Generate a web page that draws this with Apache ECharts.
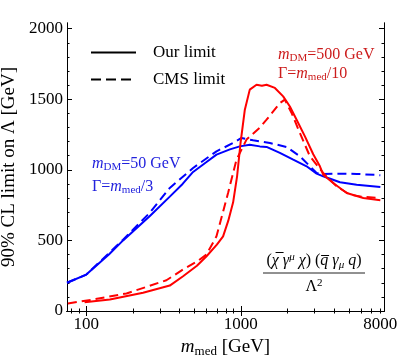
<!DOCTYPE html>
<html>
<head>
<meta charset="utf-8">
<script src="https://cdn.jsdelivr.net/npm/echarts@6/dist/echarts.min.js"></script>
<style>
  html, body { margin: 0; padding: 0; background: #fff; }
  #app { width: 399px; height: 360px; }
</style>
</head>
<body>
<div id="app"></div>
<script>
// m_DM = 50 GeV, Gamma = m_med/3 (blue)
const blueOurMass = [75, 100, 140, 173, 257, 347, 420, 491, 600, 696, 850, 985, 1143, 1328, 1468, 1790, 2184, 2666, 3096, 3414, 4385, 5623, 8000];
const blueOurLimit = [200, 258, 400, 500, 671, 810, 900, 985, 1055, 1108, 1145, 1166, 1178, 1166, 1162, 1120, 1072, 1025, 973, 954, 912, 895, 878];
const blueCmsMass = [75, 100, 173, 257, 347, 491, 696, 892, 1011, 1202, 1542, 1977, 2412, 2800, 3096, 3414, 4385, 5623, 8000];
const blueCmsLimit = [200, 258, 505, 695, 872, 1013, 1131, 1190, 1226, 1209, 1190, 1162, 1096, 1025, 978, 970, 973, 971, 962];

// m_DM = 500 GeV, Gamma = m_med/10 (red)
const redOurMass = [97.5, 142, 233, 347, 423, 520, 600, 700, 768, 830, 892, 946, 996, 1062, 1143, 1264, 1370, 1468, 1662, 1880, 2078, 2297, 2600, 2943, 3251, 3414, 3962, 4844, 6209, 8000];
const redOurLimit = [62, 81, 129, 180, 246, 320, 388, 470, 529, 640, 770, 954, 1190, 1426, 1568, 1603, 1596, 1603, 1580, 1520, 1449, 1355, 1237, 1110, 1025, 966, 907, 836, 801, 784];
const redCmsMass = [76, 110, 182, 330, 423, 520, 600, 696, 827, 938, 1089, 1328, 1468, 1790, 1928, 2132, 2412, 2800, 3414, 4169, 5085, 6209, 8000];
const redCmsLimit = [53, 81, 124, 218, 294, 350, 400, 529, 836, 1072, 1214, 1299, 1355, 1473, 1497, 1403, 1261, 1096, 978, 883, 824, 808, 801];

// ticks
const xLabels = [100, 1000, 8000];
const xMajorTicks = [100, 1000];
const xMinorTicks = [80, 90, 200, 300, 400, 500, 600, 700, 800, 900, 2000, 3000, 4000, 5000, 6000, 7000, 8000];
const yLabels = [0, 500, 1000, 1500, 2000];
const yMinorTicks = [100, 200, 300, 400, 600, 700, 800, 900, 1100, 1200, 1300, 1400, 1600, 1700, 1800, 1900];

const FONT = "Liberation Serif";
const BLUE = "#0000ff";
const RED = "#ff0000";

const zip = (xs, ys) => xs.map((x, i) => [x, ys[i]]);

const myChart = echarts.init(document.getElementById("app"));

const xAxisBase = (position, ticks, len, extra) =>
  Object.assign(
    {
      type: "log",
      min: 75,
      max: 8450,
      position: position,
      axisLine: { show: true, lineStyle: { color: "#000", width: 1 } },
      axisTick: { show: true, inside: true, length: len, customValues: ticks, lineStyle: { color: "#000" } },
      axisLabel: { show: false },
      splitLine: { show: false },
      minorTick: { show: false },
    },
    extra || {}
  );

const yAxisBase = (position, ticks, len, extra) =>
  Object.assign(
    {
      type: "value",
      min: 0,
      max: 2040,
      position: position,
      axisLine: { show: true, lineStyle: { color: "#000", width: 1 } },
      axisTick: { show: true, inside: true, length: len, customValues: ticks, lineStyle: { color: "#000" } },
      axisLabel: { show: false },
      splitLine: { show: false },
    },
    extra || {}
  );

const subRich = (size, color, italic) => ({
  fontFamily: FONT,
  fontSize: size,
  color: color,
  fontStyle: italic ? "italic" : "normal",
});

const annot = (x, y, text, color) => ({
  type: "text",
  x: x,
  y: y,
  style: {
    text: text,
    fill: color,
    align: "left",
    verticalAlign: "middle",
    rich: {
      n: subRich(16, color, false),
      i: subRich(16, color, true),
      s: Object.assign(subRich(11, color, false), { padding: [7, 0, 0, 0] }),
    },
  },
});

const plain = (v) => String(v);

const option = {
  animation: false,
  backgroundColor: "#fff",
  grid: { left: 67, right: 15, top: 23, bottom: 49, containLabel: false, outerBoundsMode: "none" },
  legend: {
    orient: "vertical",
    left: 85,
    top: 39,
    itemWidth: 45,
    itemHeight: 14,
    itemGap: 10,
    itemStyle: { opacity: 0 },
    data: ["Our limit", "CMS limit"],
    textStyle: { fontFamily: FONT, fontSize: 17, color: "#000", padding: [0, 0, 0, 12] },
  },
  xAxis: [
    xAxisBase("bottom", xMajorTicks, 5, {
      axisLabel: {
        show: true,
        customValues: xLabels,
        formatter: plain,
        margin: 5,
        fontFamily: FONT,
        fontSize: 17,
        color: "#000",
      },
      name: "{i|m}{s|med} [GeV]",
      nameLocation: "middle",
      nameGap: 25,
      nameTextStyle: {
        fontFamily: FONT,
        fontSize: 19,
        color: "#000",
        rich: {
          i: subRich(19, "#000", true),
          s: Object.assign(subRich(13, "#000", false), { padding: [8, 0, 0, 0] }),
        },
      },
    }),
    xAxisBase("bottom", xMinorTicks, 2.5),
    xAxisBase("top", xMajorTicks, 5),
    xAxisBase("top", xMinorTicks, 2.5),
  ],
  yAxis: [
    yAxisBase("left", yLabels, 5, {
      axisLabel: {
        show: true,
        customValues: yLabels,
        formatter: plain,
        margin: 4,
        fontFamily: FONT,
        fontSize: 17,
        color: "#000",
      },
      name: "90% CL limit on Λ [GeV]",
      nameLocation: "middle",
      nameRotate: 90,
      nameGap: 38,
      nameTextStyle: { fontFamily: FONT, fontSize: 19, color: "#000" },
    }),
    yAxisBase("left", yMinorTicks, 2.5),
    yAxisBase("right", yLabels, 5),
    yAxisBase("right", yMinorTicks, 2.5),
  ],
  series: [
    // legend-only entries
    { name: "Our limit", type: "line", data: [], symbol: "none", color: "#000", lineStyle: { color: "#000", width: 2 } },
    { name: "CMS limit", type: "line", data: [], symbol: "none", color: "#000", lineStyle: { color: "#000", width: 2, type: [10, 5] } },
    { name: "blue our", type: "line", data: zip(blueOurMass, blueOurLimit), symbol: "none", lineStyle: { color: BLUE, width: 2 } },
    { name: "blue cms", type: "line", data: zip(blueCmsMass, blueCmsLimit), symbol: "none", lineStyle: { color: BLUE, width: 2, type: [9, 5] } },
    { name: "red our", type: "line", data: zip(redOurMass, redOurLimit), symbol: "none", lineStyle: { color: RED, width: 2 } },
    { name: "red cms", type: "line", data: zip(redCmsMass, redCmsLimit), symbol: "none", lineStyle: { color: RED, width: 2, type: [9, 5] } },
  ],
  graphic: [
    annot(92, 164, "{i|m}{s|DM}{n|=50 GeV}", "#2222dd"),
    annot(92, 187, "{n|Γ=}{i|m}{s|med}{n|/3}", "#2222dd"),
    annot(278, 55, "{i|m}{s|DM}{n|=500 GeV}", "#cc1c1c"),
    annot(278, 74, "{n|Γ=}{i|m}{s|med}{n|/10}", "#cc1c1c"),
    // operator label
    {
      type: "text",
      x: 314,
      y: 261,
      style: {
        text: "{n|(}{i|χ̅ γ}{sup|μ}{i| χ}{n|) (}{i|q̅ γ}{sub|μ}{i| q}{n|)}",
        align: "center",
        verticalAlign: "middle",
        rich: {
          n: subRich(16, "#222", false),
          i: subRich(16, "#222", true),
          sup: Object.assign(subRich(11, "#222", true), { padding: [0, 0, 8, 0] }),
          sub: Object.assign(subRich(11, "#222", true), { padding: [8, 0, 0, 0] }),
        },
      },
    },
    { type: "line", shape: { x1: 263, y1: 273, x2: 365, y2: 273 }, style: { stroke: "#222", lineWidth: 1 } },
    {
      type: "text",
      x: 314,
      y: 287,
      style: {
        text: "{n|Λ}{sup|2}",
        align: "center",
        verticalAlign: "middle",
        rich: {
          n: subRich(16, "#222", false),
          sup: Object.assign(subRich(11, "#222", false), { padding: [0, 0, 8, 0] }),
        },
      },
    },
  ],
};

myChart.setOption(option);
</script>
</body>
</html>
